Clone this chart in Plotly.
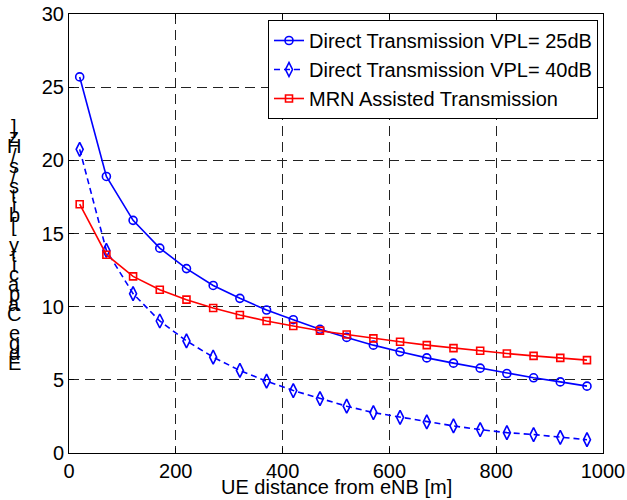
import plotly.graph_objects as go

distance_m = [20, 70, 120, 170, 220, 270, 320, 370, 420, 470,
              520, 570, 620, 670, 720, 770, 820, 870, 920, 970]
direct_25dB = [25.7, 18.9, 15.9, 14.0, 12.6, 11.45, 10.57, 9.77, 9.11, 8.45,
               7.9, 7.37, 6.92, 6.5, 6.14, 5.8, 5.43, 5.14, 4.86, 4.57]
direct_40dB = [20.75, 13.84, 10.89, 9.02, 7.66, 6.55, 5.64, 4.91, 4.27, 3.72,
               3.2, 2.76, 2.44, 2.12, 1.85, 1.6, 1.39, 1.26, 1.07, 0.91]
mrn_assisted = [17.0, 13.55, 12.07, 11.16, 10.48, 9.91, 9.43, 9.02, 8.68, 8.36,
                8.1, 7.83, 7.6, 7.37, 7.17, 6.99, 6.8, 6.64, 6.5, 6.35]

series_names = ["Direct Transmission VPL= 25dB",
                "Direct Transmission VPL= 40dB",
                "MRN Assisted Transmission"]
x_ticks = [0, 200, 400, 600, 800, 1000]
y_ticks = [0, 5, 10, 15, 20, 25, 30]
x_title = "UE distance from eNB [m]"
y_title = "Edge Capacity [bits/s/Hz]"

FONT = "Liberation Sans, Arial, sans-serif"
FS = 20

fig = go.Figure()
fig.add_trace(go.Scatter(
    x=distance_m, y=direct_25dB, name=series_names[0], mode="lines+markers",
    line=dict(color="#0000ff", width=1.6),
    marker=dict(symbol="circle-open", size=8, color="#0000ff", line=dict(width=1.6))))
fig.add_trace(go.Scatter(
    x=distance_m, y=direct_40dB, name=series_names[1], mode="lines+markers",
    line=dict(color="#0000ff", width=1.6, dash="6px,4px"),
    marker=dict(symbol="diamond-tall-open", size=10, color="#0000ff", line=dict(width=1.6))))
fig.add_trace(go.Scatter(
    x=distance_m, y=mrn_assisted, name=series_names[2], mode="lines+markers",
    line=dict(color="#ff0000", width=1.6),
    marker=dict(symbol="square-open", size=7, color="#ff0000", line=dict(width=1.6))))

axis_common = dict(
    showline=True, linecolor="black", linewidth=1, mirror="ticks",
    ticks="inside", ticklen=5, tickcolor="black",
    showgrid=True, gridcolor="#222222", gridwidth=1, griddash="10px,6px",
    zeroline=False, automargin=False,
    tickfont=dict(family=FONT, size=FS, color="black"),
)

fig.update_xaxes(range=[0, 1000], tickvals=x_ticks, **axis_common)
fig.update_yaxes(range=[0, 30], tickvals=y_ticks, **axis_common)

L, R, T, B = 69, 24, 14, 47
W, H = 627, 500
plot_w = W - L - R
plot_h = H - T - B
ann = []
# x-axis title placed as text just below the tick labels
ann.append(dict(text=x_title, x=0.5, y=-(487 - (H - B)) / plot_h,
                xref="paper", yref="paper", xanchor="center", yanchor="middle",
                showarrow=False, font=dict(family=FONT, size=FS, color="black")))
# vertically stacked (unrotated) y-axis label, as in the reference
for i, ch in enumerate(y_title):
    ypix = 363 - i * 9.85
    ann.append(dict(text=ch, x=(14 - L) / plot_w, y=(H - B - ypix) / plot_h,
                    xref="paper", yref="paper", xanchor="center", yanchor="middle",
                    showarrow=False, font=dict(family=FONT, size=FS, color="black")))

fig.update_layout(
    width=W, height=H,
    margin=dict(l=L, r=R, t=T, b=B),
    plot_bgcolor="white", paper_bgcolor="white",
    font=dict(family=FONT, size=FS, color="black"),
    showlegend=True,
    legend=dict(x=(598 - L) / plot_w, y=1 - 6 / plot_h, xanchor="right", yanchor="top",
                bgcolor="white", bordercolor="black", borderwidth=1,
                font=dict(family=FONT, size=FS, color="black"),
                itemwidth=30, tracegroupgap=0),
    annotations=ann,
)

fig.write_html("out.html")
